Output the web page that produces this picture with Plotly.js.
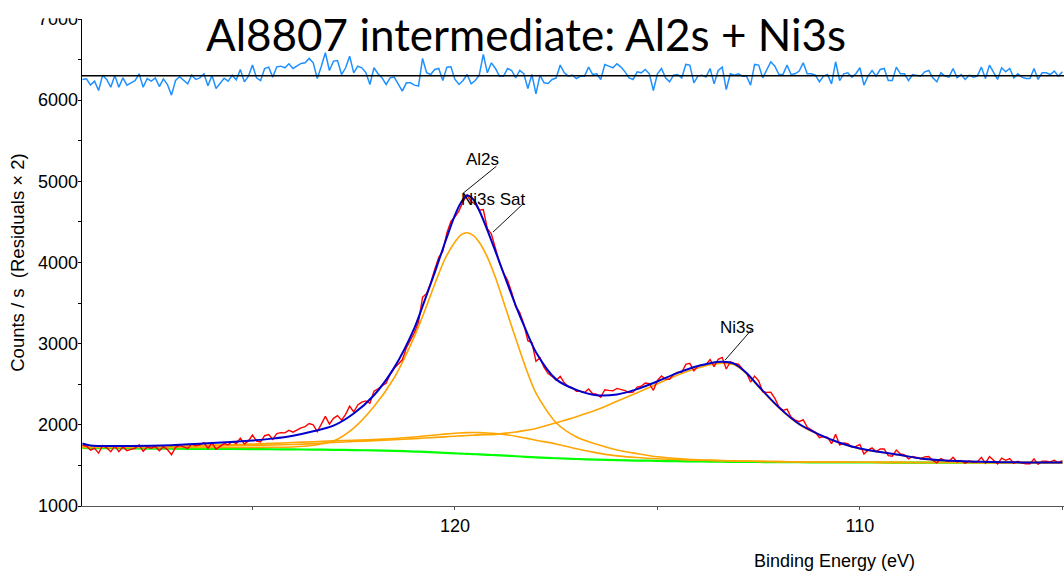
<!DOCTYPE html>
<html>
<head>
<meta charset="utf-8">
<script src="https://cdn.plot.ly/plotly-3.0.1.min.js"></script>
<style>html,body{margin:0;padding:0;background:#fff;}#chart{width:1064px;height:573px;}</style>
</head>
<body>
<div id="chart"></div>
<script>
// ---- measured spectrum (0.1 eV steps from 129.2 eV downwards) ----
const eStart = 129.2;
const eStep = 0.1;
const counts = [
1747,1739,1687,1711,1652,1745,1717,1668,1740,1669,
1727,1682,1697,1711,1754,1673,1728,1712,1734,1681,
1730,1695,1631,1723,1748,1731,1708,1764,1741,1754,
1781,1710,1779,1700,1738,1769,1754,1794,1770,1836,
1764,1802,1874,1800,1788,1866,1880,1822,1893,1904,
1901,1932,1910,1936,1963,1978,2016,2000,1918,2008,
2104,2009,2080,2114,2058,2130,2231,2158,2245,2280,
2295,2266,2415,2442,2483,2511,2623,2697,2750,2801,
2947,
3047,3137,3266,3572,3618,3748,3915,4065,4136,4364,
4506,4563,4636,4751,4833,4750,4721,4644,4652,4418,
4350,4182,3998,3868,3780,3633,3458,3383,3242,3037,
3013,2784,2824,2707,2632,2598,2548,2596,2518,2473,
2454,2414,2413,2398,2441,2383,2377,2340,2432,2425,
2420,2449,2439,2422,2398,2403,2464,2476,2516,2508,
2425,2547,2601,2565,2561,2623,2648,2646,2745,2758,
2666,2723,2742,2742,2805,2718,2808,2830,2688,2777,
2756,
2747,2688,2638,2527,2600,2541,2408,2400,2401,2325,
2223,2178,2194,2095,2060,2039,2063,1969,1943,1909,
1843,1856,1846,1768,1885,1751,1776,1767,1727,1733,
1758,1641,1688,1715,1671,1704,1703,1621,1614,1689,
1640,1631,1582,1610,1598,1583,1605,1610,1561,1532,
1583,1560,1551,1601,1542,1559,1528,1553,1539,1544,
1599,1528,1609,1560,1519,1590,1563,1584,1526,1550,
1529,1521,1520,1581,1513,1553,1553,1543,1564,1533,
1559
];
// residuals x2, drawn offset around the zero line
const residualZero = 6300;
const residual = [
6255,6263,6185,6234,6119,6308,6255,6160,6304,6160,
6275,6185,6214,6240,6325,6160,6267,6234,6275,6168,
6263,6193,6062,6242,6288,6250,6201,6308,6255,6275,
6325,6177,6308,6144,6214,6270,6234,6308,6251,6378,
6226,6296,6432,6275,6242,6390,6407,6284,6411,6419,
6399,6448,6390,6420,6452,6460,6514,6460,6267,6419,
6584,6366,6481,6489,6316,6399,6542,6337,6419,6399,
6340,6193,6399,6325,6275,6193,6275,6284,6201,6111,
6214,
6214,6185,6173,6514,6337,6316,6378,6390,6242,6407,
6411,6255,6193,6242,6316,6201,6242,6308,6563,6337,
6460,6390,6296,6296,6390,6366,6275,6366,6325,6144,
6316,6078,6308,6214,6205,6255,6275,6432,6337,6296,
6308,6267,6296,6296,6407,6316,6325,6255,6440,6419,
6399,6448,6407,6349,6275,6255,6349,6337,6378,6325,
6119,6325,6390,6275,6226,6308,6316,6275,6440,6432,
6214,6296,6308,6284,6390,6201,6366,6407,6131,6325,
6308,
6325,6296,6296,6185,6440,6432,6275,6366,6473,6419,
6316,6316,6432,6316,6325,6358,6460,6325,6325,6308,
6226,6296,6316,6201,6473,6242,6325,6337,6284,6325,
6399,6185,6296,6366,6296,6378,6390,6242,6242,6407,
6325,6325,6242,6316,6308,6296,6349,6366,6275,6226,
6337,6296,6284,6390,6275,6316,6255,6308,6284,6296,
6407,6267,6432,6337,6255,6399,6349,6390,6275,6325,
6284,6267,6267,6390,6255,6337,6337,6316,6358,6296,
6349
];
// ---- fitted curves ----
const fitEnergy = [129.2,129,128,127,126,125,124.5,124,123.5,123,122.5,122,121.5,121,120.75,120.5,120.25,120,119.85,119.7,119.55,119.4,119.2,119,118.75,118.5,118.25,118,117.5,117,116.5,116,115.5,115,114.5,114,113.7,113.4,113.1,112.8,112.5,112,111.5,111,110.5,110,109.5,109,108.5,108,107,106,105];
const envelope = [1769,1745,1740,1750,1775,1808,1830,1865,1920,1990,2140,2365,2705,3195,3530,3876,4240,4585,4740,4825,4780,4640,4400,4137,3800,3470,3170,2895,2560,2430,2365,2375,2440,2535,2640,2725,2760,2776,2752,2640,2475,2215,2010,1880,1780,1708,1665,1628,1585,1565,1545,1537,1535];
const background = [1715,1714,1710,1706,1703,1701,1699,1697,1695,1692,1689,1685,1679,1671,1666,1660,1654,1648,1645,1642,1639,1636,1631,1626,1620,1613,1606,1599,1588,1579,1571,1565,1560,1556,1552,1549,1547,1545,1544,1543,1542,1540,1539,1538,1537,1536,1536,1535,1535,1534,1534,1533,1533];
const al2s = [1720,1720,1720,1720,1721,1722,1723,1727,1748,1800,1960,2225,2580,3090,3400,3733,4040,4252,4340,4366,4335,4250,4067,3815,3440,3065,2700,2390,2025,1850,1760,1690,1645,1606,1585,1570,1565,1560,1556,1553,1550,1547,1544,1542,1540,1539,1538,1537,1536,1536,1535,1534,1534];
const ni3sSat = [1734,1734,1737,1742,1750,1762,1772,1782,1792,1802,1810,1818,1832,1850,1862,1874,1886,1896,1900,1904,1905,1904,1900,1893,1878,1860,1836,1810,1765,1705,1655,1618,1597,1582,1572,1565,1561,1558,1555,1552,1550,1547,1544,1542,1540,1539,1538,1537,1536,1536,1535,1534,1534];
const ni3s = [1728,1728,1731,1735,1740,1748,1752,1758,1768,1783,1794,1805,1817,1830,1838,1845,1852,1860,1864,1868,1872,1876,1879,1882,1898,1912,1932,1955,2025,2100,2185,2290,2395,2505,2615,2700,2740,2760,2740,2628,2465,2207,2003,1874,1775,1704,1662,1626,1584,1564,1544,1536,1534];
// ---- labels ----
const peakLabels = [
  {text: 'Al2s', at: [119.33, 5263], tip: [119.80, 4853], tail: [118.94, 5201]},
  {text: 'Ni3s Sat', at: [119.06, 4782], tip: [119.06, 4375], tail: [118.27, 4745]},
  {text: 'Ni3s', at: [113.04, 3204], tip: [113.33, 2797], tail: [112.64, 3192]}
];
const xTickVals = [125, 120, 115, 110, 105];
const xTickText = ['', '120', '', '110', ''];
const yTickVals = [1000,1500,2000,2500,3000,3500,4000,4500,5000,5500,6000,6500,7000];
const yTickText = ['1000','','2000','','3000','','4000','','5000','','6000','','7000'];

const bindingEnergy = counts.map((_, i) => +(eStart - i * eStep).toFixed(1));

const fitLine = (y, color, w) => ({x: fitEnergy, y: y, type: 'scatter', mode: 'lines',
  line: {color: color, width: w, shape: 'spline', smoothing: 0.8}, hoverinfo: 'skip'});

const traces = [
  fitLine(background, '#00ff00', 2.2),
  fitLine(al2s, '#ffa500', 1.6),
  fitLine(ni3sSat, '#ffa500', 1.6),
  fitLine(ni3s, '#ffa500', 1.6),
  {x: bindingEnergy, y: counts, type: 'scatter', mode: 'lines', line: {color: '#ff0000', width: 1.4}},
  fitLine(envelope, '#0000cc', 2),
  {x: bindingEnergy, y: residual, type: 'scatter', mode: 'lines', line: {color: '#1e90ff', width: 1.5}}
];

const fontFam = 'Liberation Sans, Arial, sans-serif';
const annotations = [];
peakLabels.forEach(p => {
  annotations.push({x: p.at[0], y: p.at[1], xref: 'x', yref: 'y', text: p.text, showarrow: false,
    font: {family: fontFam, size: 17, color: '#000'}, xanchor: 'center', yanchor: 'middle'});
  annotations.push({x: p.tip[0], y: p.tip[1], xref: 'x', yref: 'y', ax: p.tail[0], ay: p.tail[1],
    axref: 'x', ayref: 'y', text: '', showarrow: true, arrowhead: 0, arrowwidth: 1, arrowcolor: '#111', standoff: 0, startstandoff: 0});
});
annotations.push({xref: 'paper', yref: 'paper', x: 0.7668, y: 0, yanchor: 'top', xanchor: 'center', yshift: -43,
  text: 'Binding Energy (eV)', showarrow: false, font: {family: fontFam, size: 18, color: '#000'}});

const layout = {
  width: 1064, height: 573,
  margin: {l: 82, r: 0, t: 19, b: 67, pad: 0},
  paper_bgcolor: '#fff', plot_bgcolor: '#fff',
  showlegend: false,
  title: {text: 'Al8807 intermediate: Al2s + Ni3s', font: {family: 'Lato, sans-serif', size: 44, color: '#000'},
    x: 0.4944, xref: 'container', xanchor: 'center', y: 0.938, yref: 'container', yanchor: 'middle'},
  xaxis: {range: [129.21, 104.96], autorange: false, tickvals: xTickVals, ticktext: xTickText,
    ticks: 'outside', ticklen: 3, tickcolor: '#555', tickwidth: 1, showline: true, linecolor: '#555', linewidth: 1.3,
    showgrid: false, zeroline: false, tickfont: {family: fontFam, size: 18, color: '#000'}},
  yaxis: {range: [1000, 7000], autorange: false, tickvals: yTickVals, ticktext: yTickText,
    ticks: 'outside', ticklen: 3, tickcolor: '#000', tickwidth: 1, showline: true, linecolor: '#000', linewidth: 1.3,
    showgrid: false, zeroline: false, tickfont: {family: fontFam, size: 18, color: '#000'}, ticklabelstandoff: -4,
    title: {text: 'Counts / s\u00a0\u00a0(Residuals \u00d7 2)', font: {family: fontFam, size: 18.5, color: '#000'}, standoff: 8}},
  shapes: [
    {type: 'line', xref: 'paper', x0: 0, x1: 1, yref: 'y', y0: residualZero, y1: residualZero, line: {color: '#000', width: 1.6}, layer: 'above'},
    {type: 'rect', xref: 'paper', x0: -0.09, x1: -0.002, yref: 'paper', y0: 1.0016, y1: 1.06, fillcolor: '#fff', line: {width: 0}, layer: 'above'}
  ],
  annotations: annotations
};

Plotly.newPlot('chart', traces, layout, {displayModeBar: false, staticPlot: true});
</script>
</body>
</html>
